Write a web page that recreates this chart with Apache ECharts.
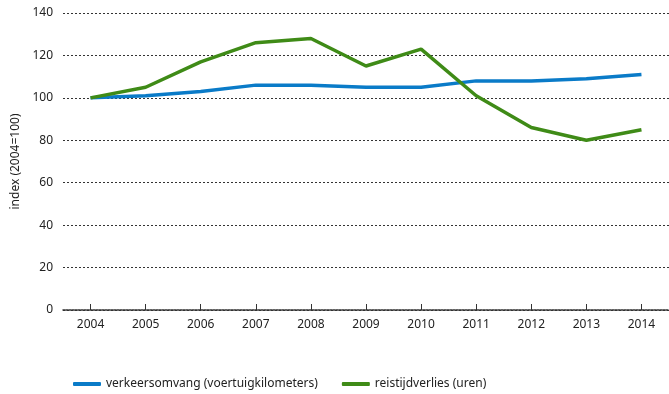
<!DOCTYPE html>
<html>
<head>
<meta charset="utf-8">
<script src="https://cdn.jsdelivr.net/npm/echarts@6/dist/echarts.min.js"></script>
<style>
  html, body { margin: 0; padding: 0; background: #fff; }
  #chart { width: 669px; height: 394px; }
</style>
</head>
<body>
<div id="chart"></div>
<script>
// Years on the category axis
const years = ['2004', '2005', '2006', '2007', '2008', '2009', '2010', '2011', '2012', '2013', '2014'];
// Traffic volume index (vehicle kilometres), 2004 = 100
const verkeersomvang = [100, 101, 103, 106, 106, 105, 105, 108, 108, 109, 111];
// Travel time loss index (hours), 2004 = 100
const reistijdverlies = [100, 105, 117, 126, 128, 115, 123, 101, 86, 80, 85];
// Series names shown in the legend
const seriesNames = ['verkeersomvang (voertuigkilometers)', 'reistijdverlies (uren)'];

const FONT = '"Noto Sans", "Open Sans", sans-serif';
const TEXT = '#222';
const BLUE = '#0a7bc8';
const GREEN = '#3f8b17';

const chart = echarts.init(document.getElementById('chart'));
chart.setOption({
  animation: false,
  textStyle: { fontFamily: FONT },
  grid: { left: 63, right: -6, top: 13, bottom: 84, containLabel: false },
  xAxis: {
    type: 'category',
    data: years,
    boundaryGap: true,
    axisLine: { show: true, lineStyle: { color: '#333', width: 1.5, type: [2, 1] } },
    axisTick: { show: true, inside: true, length: 6, alignWithLabel: true, lineStyle: { color: '#333' } },
    axisLabel: { color: TEXT, fontSize: 12, margin: 9, fontFamily: FONT }
  },
  yAxis: {
    type: 'value',
    min: 0,
    max: 140,
    interval: 20,
    name: 'index (2004=100)',
    nameLocation: 'middle',
    nameGap: 34,
    nameTextStyle: { color: TEXT, fontSize: 12, fontFamily: FONT },
    axisLine: { show: false },
    axisTick: { show: false },
    axisLabel: { color: TEXT, fontSize: 12, margin: 10, fontFamily: FONT },
    splitLine: { show: true, lineStyle: { color: '#333', width: 1, type: [2, 2] } }
  },
  legend: {
    left: 68,
    bottom: -1,
    itemWidth: 28,
    itemHeight: 4,
    itemGap: 24,
    icon: 'roundRect',
    textStyle: { color: TEXT, fontSize: 12, fontFamily: FONT },
    data: seriesNames
  },
  series: [
    {
      name: seriesNames[0],
      type: 'line',
      data: verkeersomvang,
      symbol: 'none',
      lineStyle: { color: BLUE, width: 3.5 },
      itemStyle: { color: BLUE }
    },
    {
      name: seriesNames[1],
      type: 'line',
      data: reistijdverlies,
      symbol: 'none',
      lineStyle: { color: GREEN, width: 3.5 },
      itemStyle: { color: GREEN }
    }
  ]
});
</script>
</body>
</html>
